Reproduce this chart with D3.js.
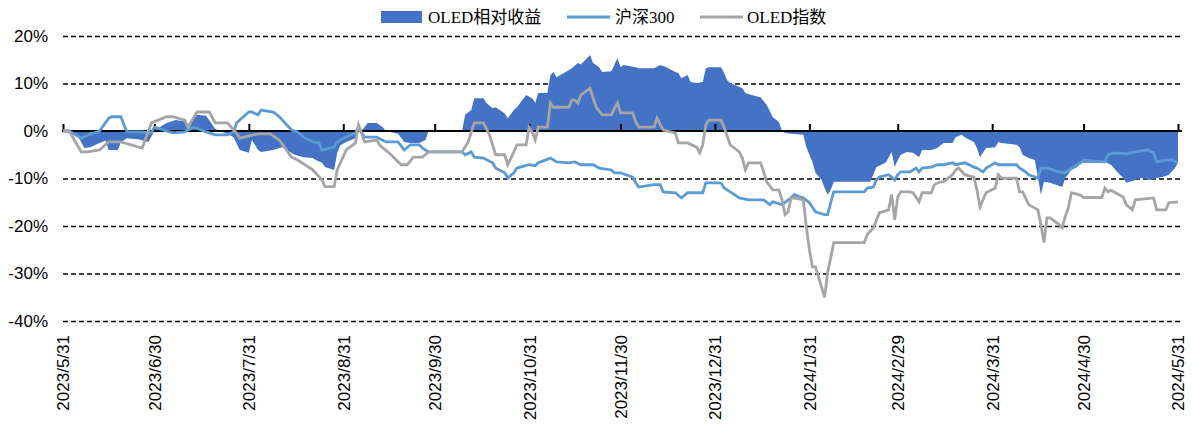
<!DOCTYPE html>
<html>
<head>
<meta charset="utf-8">
<script src="https://cdn.jsdelivr.net/npm/d3@7"></script>
<style>
  body { margin: 0; background: #fff; }
  .axis text { font-family: "Liberation Sans", Arial, sans-serif; font-size: 17px; fill: #000; }
  .legend text { font-family: "Liberation Serif", "Times New Roman", "Noto Sans CJK SC", serif; font-size: 17px; fill: #000; }
</style>
</head>
<body>
<div class="graph"></div>
<script>
// Data (percent, cumulative since 2023/5/31)
var tickDates = ["2023-05-31", "2023-06-30", "2023-07-31", "2023-08-31", "2023-09-30", "2023-10-31",
  "2023-11-30", "2023-12-31", "2024-01-31", "2024-02-29", "2024-03-31", "2024-04-30", "2024-05-31"];
var yTicks = [20, 10, 0, -10, -20, -30, -40];
var legendNames = ["OLED相对收益", "沪深300", "OLED指数"];

// OLED指数
var oledDates = ["2023-05-31","2023-06-02","2023-06-06","2023-06-08","2023-06-12","2023-06-15","2023-06-19","2023-06-26","2023-06-29",
  "2023-07-04","2023-07-06","2023-07-10","2023-07-11","2023-07-14","2023-07-18","2023-07-20","2023-07-24","2023-07-27","2023-07-28",
  "2023-08-03","2023-08-07","2023-08-10","2023-08-14","2023-08-16","2023-08-21","2023-08-24","2023-08-25","2023-08-28","2023-08-29",
  "2023-09-01","2023-09-04","2023-09-05","2023-09-07","2023-09-11","2023-09-12","2023-09-15","2023-09-19","2023-09-21","2023-09-23",
  "2023-09-26","2023-09-28","2023-10-09","2023-10-11","2023-10-13","2023-10-16","2023-10-18","2023-10-20","2023-10-23","2023-10-24",
  "2023-10-26","2023-10-27","2023-10-30","2023-10-31","2023-11-01","2023-11-02","2023-11-03","2023-11-06","2023-11-07","2023-11-08",
  "2023-11-13","2023-11-14","2023-11-15","2023-11-16","2023-11-17","2023-11-20","2023-11-22","2023-11-24","2023-11-27","2023-11-28",
  "2023-11-29","2023-11-30","2023-12-04","2023-12-05","2023-12-06","2023-12-11","2023-12-12","2023-12-14","2023-12-18","2023-12-19",
  "2023-12-22","2023-12-25","2023-12-26","2023-12-27","2023-12-28","2023-12-29","2024-01-02","2024-01-03","2024-01-05","2024-01-08",
  "2024-01-09","2024-01-10","2024-01-11","2024-01-15","2024-01-16","2024-01-17","2024-01-19","2024-01-21","2024-01-22","2024-01-23",
  "2024-01-24","2024-01-25","2024-01-26","2024-01-29","2024-01-30","2024-01-31","2024-02-01","2024-02-02","2024-02-05","2024-02-06",
  "2024-02-08","2024-02-18","2024-02-19","2024-02-21","2024-02-23","2024-02-26","2024-02-27","2024-02-28","2024-02-29","2024-03-01",
  "2024-03-04","2024-03-05","2024-03-07","2024-03-08","2024-03-11","2024-03-12","2024-03-14","2024-03-15","2024-03-18","2024-03-19",
  "2024-03-20","2024-03-22","2024-03-25","2024-03-26","2024-03-27","2024-03-29","2024-04-01","2024-04-02","2024-04-03","2024-04-08",
  "2024-04-09","2024-04-10","2024-04-12","2024-04-15","2024-04-16","2024-04-17","2024-04-18","2024-04-19","2024-04-22","2024-04-23",
  "2024-04-24","2024-04-25","2024-04-26","2024-04-29","2024-04-30","2024-05-06","2024-05-07","2024-05-08","2024-05-09","2024-05-13",
  "2024-05-14","2024-05-16","2024-05-17","2024-05-23","2024-05-24","2024-05-27","2024-05-28","2024-05-31"];
var oledValues = [0,0,-4.4,-4.4,-4.0,-2.3,-2.3,-3.6,1.7,
  3.0,3.0,2.3,0.8,4.0,4.0,1.7,1.7,-0.5,-1.5,
  -0.6,-0.6,-1.9,-5.5,-6.1,-8.2,-10.3,-11.7,-11.7,-8.2,
  -4.0,-2.5,1.3,-2.3,-1.9,-3.0,-4.6,-7.1,-7.1,-5.5,
  -5.5,-4.4,-4.4,-2.3,1.7,1.7,-0.8,-5.0,-5.0,-7.1,
  -4.4,-2.9,-2.9,0.8,-0.2,-1.9,0.8,0.8,5.9,5.0,
  5.0,6.5,6.5,5.9,7.6,9.0,5.0,3.4,3.4,4.8,
  5.9,3.8,3.8,1.9,0.8,0.8,2.7,0.2,-0.4,-2.5,
  -2.5,-3.4,-4.6,-2.9,1.3,2.3,2.3,0.8,-2.9,-4.4,
  -5.7,-8.2,-6.7,-6.7,-8.6,-10.7,-12.4,-12.4,-14.5,-17.6,
  -17.0,-14.1,-14.1,-14.5,-20.2,-25.0,-28.6,-28.6,-35.0,-29.8,
  -23.5,-23.5,-21.8,-20.4,-17.2,-16.6,-13.4,-18.7,-13.9,-12.8,
  -12.8,-13.0,-14.9,-13.0,-13.0,-11.3,-10.7,-10.7,-9.2,-8.2,
  -7.8,-9.2,-9.7,-12.4,-16.0,-13.0,-12.0,-9.2,-9.9,-9.9,
  -12.8,-12.8,-15.5,-16.6,-19.7,-23.5,-18.3,-18.3,-19.7,-20.4,
  -18.0,-16.2,-13.0,-13.5,-14.0,-14.0,-12.0,-12.8,-12.5,-13.9,
  -15.5,-16.6,-14.5,-14.1,-16.6,-16.6,-15.1,-14.9];

// 沪深300
var hsDates = ["2023-05-31","2023-06-02","2023-06-06","2023-06-08","2023-06-12","2023-06-15","2023-06-16","2023-06-19","2023-06-20",
  "2023-06-21","2023-06-26","2023-06-29","2023-06-30","2023-07-04","2023-07-06","2023-07-10","2023-07-11","2023-07-13","2023-07-17",
  "2023-07-20","2023-07-24","2023-07-26","2023-07-27","2023-07-28","2023-07-31","2023-08-01","2023-08-03","2023-08-04","2023-08-08",
  "2023-08-10","2023-08-14","2023-08-16","2023-08-18","2023-08-21","2023-08-23","2023-08-24","2023-08-28","2023-08-29","2023-08-31",
  "2023-09-04","2023-09-05","2023-09-07","2023-09-11","2023-09-14","2023-09-18","2023-09-20","2023-09-22","2023-09-25","2023-09-26",
  "2023-09-27","2023-09-28","2023-10-09","2023-10-10","2023-10-12","2023-10-13","2023-10-16","2023-10-19","2023-10-20","2023-10-23",
  "2023-10-24","2023-10-26","2023-10-27","2023-10-31","2023-11-02","2023-11-03","2023-11-07","2023-11-09","2023-11-13","2023-11-15",
  "2023-11-17","2023-11-21","2023-11-23","2023-11-27","2023-11-28","2023-11-30","2023-12-04","2023-12-05","2023-12-06","2023-12-11",
  "2023-12-13","2023-12-14","2023-12-18","2023-12-20","2023-12-22","2023-12-27","2023-12-28","2024-01-02","2024-01-03","2024-01-05",
  "2024-01-08","2024-01-11","2024-01-16","2024-01-18","2024-01-19","2024-01-22","2024-01-25","2024-01-26","2024-01-29","2024-01-31",
  "2024-02-02","2024-02-05","2024-02-06","2024-02-07","2024-02-08","2024-02-18","2024-02-19","2024-02-21","2024-02-22","2024-02-23",
  "2024-02-26","2024-02-27","2024-02-28","2024-02-29","2024-03-01","2024-03-04","2024-03-06","2024-03-07","2024-03-08","2024-03-11",
  "2024-03-13","2024-03-15","2024-03-18","2024-03-19","2024-03-22","2024-03-25","2024-03-26","2024-03-28","2024-03-29","2024-04-01",
  "2024-04-02","2024-04-08","2024-04-09","2024-04-11","2024-04-12","2024-04-15","2024-04-16","2024-04-18","2024-04-22","2024-04-24",
  "2024-04-26","2024-04-29","2024-04-30","2024-05-06","2024-05-07","2024-05-08","2024-05-10","2024-05-14","2024-05-17","2024-05-21",
  "2024-05-23","2024-05-24","2024-05-27","2024-05-29","2024-05-31"];
var hsValues = [0,0,-1.5,-0.9,0,2.7,3.0,3.0,1.3,
  -0.2,-0.2,-0.4,0.8,0,-0.4,-0.2,0.2,0.8,-0.2,
  -0.8,-0.8,-0.2,1.7,2.3,4.0,4.0,3.4,4.4,4.0,
  3.0,0.2,-0.2,-1.3,-2.3,-2.5,-4.0,-3.4,-2.3,-1.5,
  -0.4,0.8,-1.3,-1.3,-2.3,-2.3,-4.0,-2.9,-2.9,-3.6,
  -4.0,-4.4,-4.4,-5.0,-4.4,-5.5,-5.7,-6.7,-7.8,-8.8,
  -9.9,-8.8,-7.8,-7.1,-7.3,-6.7,-5.7,-6.5,-6.7,-6.5,
  -7.1,-7.1,-7.8,-8.2,-8.8,-8.8,-9.7,-10.9,-11.8,-11.3,
  -11.3,-12.8,-13.0,-14.1,-13.0,-13.0,-10.9,-10.9,-12.0,-12.8,
  -14.1,-14.5,-14.5,-15.5,-14.9,-15.5,-14.1,-13.4,-14.1,-15.1,
  -17.0,-17.6,-17.6,-15.1,-12.8,-12.8,-12.0,-11.8,-10.3,-9.7,
  -9.2,-9.7,-10.3,-9.2,-8.6,-8.6,-7.8,-8.6,-7.8,-7.6,
  -7.1,-7.1,-6.7,-7.1,-6.7,-7.6,-7.8,-8.6,-7.8,-6.7,
  -7.1,-7.1,-7.8,-8.6,-9.2,-9.9,-7.8,-7.8,-8.6,-8.8,
  -7.8,-6.7,-6.1,-6.5,-6.5,-5.0,-4.6,-4.8,-4.4,-4.0,
  -4.6,-6.5,-6.1,-6.1,-6.7];

// OLED相对收益
var relDates = ["2023-05-31","2023-06-02","2023-06-05","2023-06-07","2023-06-09","2023-06-12","2023-06-14","2023-06-15","2023-06-18",
  "2023-06-19","2023-06-21","2023-06-25","2023-06-28","2023-06-30","2023-07-03","2023-07-04","2023-07-07","2023-07-10","2023-07-11",
  "2023-07-13","2023-07-14","2023-07-17","2023-07-20","2023-07-21","2023-07-24","2023-07-26","2023-07-28","2023-07-31","2023-08-01",
  "2023-08-03","2023-08-04","2023-08-08","2023-08-10","2023-08-11","2023-08-15","2023-08-18","2023-08-21","2023-08-22","2023-08-24",
  "2023-08-25","2023-08-28","2023-08-29","2023-08-30","2023-09-01","2023-09-04","2023-09-05","2023-09-06","2023-09-08","2023-09-11",
  "2023-09-13","2023-09-14","2023-09-18","2023-09-20","2023-09-22","2023-09-25","2023-09-27","2023-09-28","2023-10-09","2023-10-10",
  "2023-10-12","2023-10-13","2023-10-16","2023-10-17","2023-10-19","2023-10-20","2023-10-23","2023-10-24","2023-10-26","2023-10-27",
  "2023-10-30","2023-11-01","2023-11-02","2023-11-03","2023-11-06","2023-11-07","2023-11-08","2023-11-09","2023-11-13","2023-11-14",
  "2023-11-16","2023-11-17","2023-11-20","2023-11-21","2023-11-23","2023-11-24","2023-11-27","2023-11-29","2023-11-30","2023-12-01",
  "2023-12-05","2023-12-06","2023-12-11","2023-12-13","2023-12-15","2023-12-18","2023-12-19","2023-12-20","2023-12-22","2023-12-23",
  "2023-12-25","2023-12-27","2023-12-28","2023-12-29","2024-01-02","2024-01-03","2024-01-04","2024-01-05","2024-01-09","2024-01-10",
  "2024-01-12","2024-01-15","2024-01-17","2024-01-19","2024-01-21","2024-01-22","2024-01-23","2024-01-25","2024-01-29","2024-01-30",
  "2024-02-01","2024-02-02","2024-02-04","2024-02-05","2024-02-06","2024-02-07","2024-02-08","2024-02-20","2024-02-22","2024-02-25",
  "2024-02-27","2024-02-28","2024-02-29","2024-03-01","2024-03-03","2024-03-05","2024-03-07","2024-03-08","2024-03-11","2024-03-13",
  "2024-03-15","2024-03-18","2024-03-19","2024-03-21","2024-03-22","2024-03-25","2024-03-26","2024-03-27","2024-03-29","2024-04-01",
  "2024-04-02","2024-04-03","2024-04-08","2024-04-09","2024-04-10","2024-04-12","2024-04-14","2024-04-15","2024-04-16","2024-04-17",
  "2024-04-19","2024-04-23","2024-04-24","2024-04-26","2024-04-28","2024-04-29","2024-05-05","2024-05-07","2024-05-09","2024-05-11",
  "2024-05-13","2024-05-14","2024-05-17","2024-05-19","2024-05-22","2024-05-24","2024-05-26","2024-05-28","2024-05-30","2024-05-31"];
var relValues = [0,0,-1.2,-3.6,-3.4,-2.5,-2.0,-4.0,-4.0,
  -2.3,-1.5,-1.8,-2.3,0,1.3,1.7,2.3,2.0,0,
  2.7,3.4,3.2,0.4,0,-0.6,-1.3,-4.0,-4.6,-1.9,
  -4.0,-4.4,-4.0,-3.6,-3.4,-5.0,-5.5,-5.7,-6.1,-6.7,
  -7.6,-8.2,-4.6,-3.0,-2.3,-1.5,-0.2,0,1.7,1.7,
  0.8,0,-0.6,-2.3,-2.5,-2.5,-1.9,0,0,3.4,
  4.4,6.9,6.9,5.9,4.8,5.0,3.7,2.7,4.4,5.0,
  7.6,6.9,5.9,8.0,8.0,11.8,12.4,11.3,12.8,13.2,
  14.3,14.0,16.0,14.3,13.4,12.4,12.6,15.3,13.4,13.9,
  13.4,13.2,13.2,13.9,13.4,12.4,12.2,11.1,11.8,10.3,
  10.1,10.3,13.2,13.4,13.4,12.2,10.7,10.1,9.0,8.0,
  7.6,7.1,5.5,2.9,1.9,0,-0.4,-0.6,-0.8,-3.4,
  -6.5,-8.8,-10.3,-12.0,-13.4,-12.4,-10.7,-10.7,-7.6,-6.7,
  -4.4,-7.6,-6.1,-5.0,-4.4,-4.6,-5.5,-4.0,-4.0,-3.6,
  -2.5,-2.5,-1.3,-0.8,-1.3,-2.3,-3.6,-5.5,-3.6,-3.4,
  -2.3,-2.5,-2.9,-3.4,-5.0,-5.7,-6.1,-9.7,-13.4,-10.7,
  -10.9,-11.8,-9.9,-8.2,-7.6,-6.7,-6.7,-6.5,-7.1,-8.6,
  -9.9,-10.9,-10.3,-9.9,-10.3,-9.9,-9.7,-9.2,-7.8,-6.7];

graph();

/*
Builds the svg and draws the three series
*/
function graph() {

  const margin = {top: 36, right: 15, bottom: 106, left: 63},
    width = 1193 - margin.left - margin.right,
    height = 427 - margin.top - margin.bottom;

  var svg = d3.select(".graph")
    .append("svg")
    .attr("width", width + margin.left + margin.right)
    .attr("height", height + margin.top + margin.bottom)
    .style("display", "block")
    .append("g")
    .attr("transform", "translate(" + margin.left + "," + margin.top + ")");

  var parseDate = d3.timeParse("%Y-%m-%d");
  var toPoints = function(dates, values) {
    return dates.map(function(d, i) { return {date: parseDate(d), value: values[i]}; });
  };
  var oled = toPoints(oledDates, oledValues);
  var hs = toPoints(hsDates, hsValues);
  var rel = toPoints(relDates, relValues);
  var ticks = tickDates.map(parseDate);

  // Scales
  var x = d3.scaleTime()
    .domain([ticks[0], ticks[ticks.length - 1]])
    .range([0, width]);

  var y = d3.scaleLinear()
    .domain([-40, 20])
    .range([height, 0]);

  // Dashed gridlines
  svg.append("g")
    .attr("class", "grid")
    .call(d3.axisLeft(y).tickValues(yTicks.filter(function(d) { return d !== 0; }))
      .tickSize(-(width + 5)).tickFormat(""))
    .call(function(g) { g.select(".domain").remove(); })
    .selectAll("line")
      .attr("stroke", "#000")
      .attr("stroke-width", 1.5)
      .attr("stroke-dasharray", "5,3");

  // Y labels
  svg.append("g")
    .attr("class", "axis")
    .call(d3.axisLeft(y).tickValues(yTicks).tickSize(0).tickPadding(15)
      .tickFormat(function(d) { return d + "%"; }))
    .call(function(g) { g.select(".domain").remove(); });

  // Relative return area
  var area = d3.area()
    .x(function(d) { return x(d.date); })
    .y0(y(0))
    .y1(function(d) { return y(d.value); });

  svg.append("path")
    .datum(rel)
    .attr("fill", "#4472C4")
    .attr("d", area);

  // Zero line with small upward ticks
  svg.append("g")
    .attr("class", "zero")
    .attr("transform", "translate(0," + y(0) + ")")
    .call(d3.axisTop(x).tickValues(ticks).tickSize(7).tickSizeOuter(0).tickFormat(""))
    .call(function(g) {
      g.select(".domain").attr("stroke", "#000").attr("stroke-width", 2.2)
        .attr("d", "M-1,0H" + (width + 4));
      g.selectAll("line").attr("stroke", "#000").attr("stroke-width", 2);
    });

  // Date labels at the bottom
  svg.append("g")
    .attr("class", "axis")
    .attr("transform", "translate(0," + height + ")")
    .call(d3.axisBottom(x).tickValues(ticks).tickSize(0).tickFormat(d3.timeFormat("%Y/%-m/%-d")))
    .call(function(g) { g.select(".domain").remove(); })
    .selectAll("text")
      .attr("transform", "rotate(-90)")
      .attr("x", -14)
      .attr("y", 0)
      .attr("dy", "0.35em")
      .style("text-anchor", "end");

  // Lines
  var line = d3.line()
    .x(function(d) { return x(d.date); })
    .y(function(d) { return y(d.value); });

  svg.append("path")
    .datum(hs)
    .attr("fill", "none")
    .attr("stroke", "#5B9BD5")
    .attr("stroke-width", 2.8)
    .attr("d", line);

  svg.append("path")
    .datum(oled)
    .attr("fill", "none")
    .attr("stroke", "#A5A5A5")
    .attr("stroke-width", 2.8)
    .attr("d", line);

  // Legend
  var legend = d3.select("svg").append("g").attr("class", "legend");
  legend.append("rect")
    .attr("x", 381).attr("y", 11).attr("width", 41).attr("height", 12)
    .attr("fill", "#4472C4");
  legend.append("text").attr("x", 428).attr("y", 23).text(legendNames[0]);
  legend.append("line")
    .attr("x1", 567).attr("x2", 610).attr("y1", 17).attr("y2", 17)
    .attr("stroke", "#5B9BD5").attr("stroke-width", 2.8);
  legend.append("text").attr("x", 615).attr("y", 23).text(legendNames[1]);
  legend.append("line")
    .attr("x1", 700).attr("x2", 743).attr("y1", 17).attr("y2", 17)
    .attr("stroke", "#A5A5A5").attr("stroke-width", 2.8);
  legend.append("text").attr("x", 747).attr("y", 23).text(legendNames[2]);
}
</script>
</body>
</html>
